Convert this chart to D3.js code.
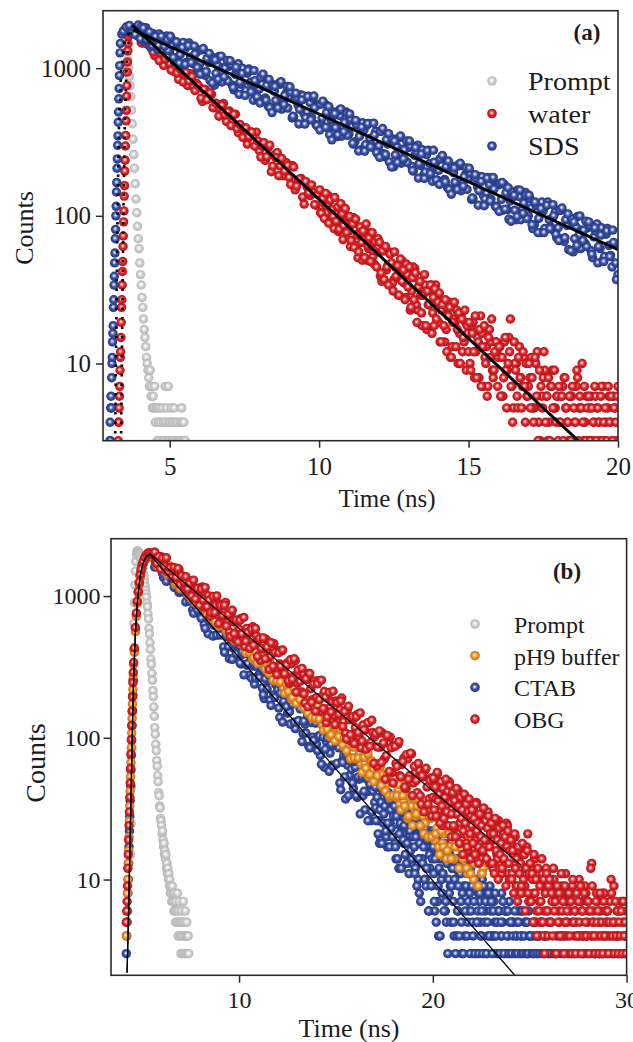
<!DOCTYPE html>
<html>
<head>
<meta charset="utf-8">
<script src="https://cdn.jsdelivr.net/npm/d3@7"></script>
<style>
  body { margin: 0; background: #fff; }
  svg { display: block; }
  text { font-family: 'Liberation Serif', 'Times New Roman', serif; fill: #1c1c1c; }
</style>
</head>
<body>
<div id="chart"></div>
<script>
// ---------- panel (a): water vs SDS ----------
// counts per channel. Decays are stored as interleaved
// channel sets (even / odd / extra); rise columns use a finer channel step
const riseStepA = 0.01
const decayStepA = 0.1
const extraStepA = 0.05
const promptStepA = 0.025

const promptAStart = 3.5
const promptA = [1800, 1650, 1500, 1300, 1150, 1000, 880, 760, 640, 520,
  420, 330, 260, 210, 165, 130, 105, 85, 70, 60,
  48, 40, 34, 28, 24, 20, 17, 15, 13, 11,
  10, 9, 8, 7, 9, 6, 7, 5, 6, 5,
  7, 4, 5, 3, 5, 4, 3, 5, 4, 2,
  3, 5, 4, 3, 7, 4, 5, 3, 7, 4,
  3, 4, 5, 3, 4, 3, 5, 4, 3, 2,
  4, 3, 2, 3, 4, 3, 5, 4, 3, 4, 2, 3]

const waterRiseStart = 3.28
const waterRise = [3, 4, 4, 5, 6, 7, 9, 11, 12, 15, 19, 24, 27, 34, 42, 49, 62, 73, 91, 108,
  136, 160, 201, 238, 297, 350, 440, 518, 645, 760, 940, 1100, 1310, 1470, 1640, 1730]
const waterStart = 3.7
const water = [1800, 1791, 1871,
  1815, 1479, 1586, 1697, 1355, 1215, 1413, 1265, 1043, 1194,
  1078, 1170, 938, 840, 971, 904, 763, 918, 747, 790,
  743, 595, 714, 621, 666, 541, 534, 564, 576, 435,
  513, 430, 488, 365, 389, 394, 306, 372, 314, 369,
  276, 298, 237, 289, 199, 257, 268, 217, 187, 229,
  182, 219, 150, 173, 179, 120, 157, 137, 144, 118,
  141, 103, 119, 137, 97, 82, 111, 94, 69, 91,
  79, 96, 63, 52, 77, 69, 50, 77, 53, 63,
  57, 36, 58, 46, 56, 37, 38, 45, 49, 28,
  44, 31, 44, 23, 29, 32, 17, 31, 22, 34,
  19, 23, 14, 24, 11, 20, 23, 16, 12, 19,
  12, 18, 8, 15, 21, 7, 13, 17, 9, 14,
  11, 6, 14, 9, 20, 5, 10, 13, 7, 4,
  7, 11, 5, 12, 3, 8, 6, 4, 9, 5,
  3, 6, 8, 4, 6, 3, 7, 5, 10, 4,
  3, 6, 4, 5, 3, 7, 4, 6, 3, 5,
  7]
const waterOddStart = 3.75
const waterOdd = [1870, 1810, 1700,
  1486, 1709, 1454, 1618, 1284, 1376, 1126, 1335, 1150, 1203,
  969, 1156, 929, 989, 806, 936, 818, 878, 704, 765,
  625, 719, 611, 680, 540, 579, 473, 561, 483, 506,
  408, 486, 390, 416, 339, 394, 344, 369, 296, 322,
  250, 313, 251, 301, 217, 248, 187, 245, 201, 219,
  163, 214, 159, 178, 134, 171, 143, 162, 119, 139,
  105, 131, 105, 126, 92, 104, 78, 103, 84, 92,
  62, 97, 63, 77, 50, 77, 60, 73, 47, 61,
  39, 58, 43, 57, 35, 45, 29, 46, 35, 40,
  23, 45, 25, 34, 18, 34, 25, 34, 18, 27,
  14, 26, 17, 26, 13, 19, 10, 21, 14, 18,
  10, 19, 12, 8, 16, 11, 7, 14, 9, 12,
  13, 6, 9, 15, 7, 10, 5, 8, 11, 6,
  8, 5, 10, 4, 6, 9, 3, 7, 5, 6,
  4, 7, 5, 3, 6, 4, 8, 5, 3, 6,
  5, 3, 6, 4, 7, 3, 5, 4, 6, 3]
const waterExtraStart = 10.025
const waterExtra = [150, 104, 131, 96, 142, 117, 89, 128, 110, 99, 133, 92, 115, 81, 121, 103, 86, 112, 77, 97,
  99, 68, 88, 61, 95, 74, 57, 84, 66, 79, 52, 88, 63, 71, 49, 77, 58, 67, 45, 70,
  66, 41, 58, 37, 62, 45, 34, 55, 48, 31, 57, 39, 46, 29, 51, 36, 43, 27, 47, 33,
  45, 24, 38, 27, 41, 19, 33, 36, 22, 29, 40, 18, 31, 25, 34, 16, 28, 32, 20, 26,
  30, 14, 25, 18, 27, 12, 21, 24, 11, 19, 26, 13, 17, 22, 10, 20, 15, 23, 9, 16,
  19, 9, 16, 12, 21, 8, 14, 17, 7, 13, 18, 10, 6, 15, 11, 20, 8, 12, 14, 7,
  13, 6, 11, 8, 15, 5, 10, 12, 7, 4, 14, 9, 6, 11, 8, 5, 12, 7, 10, 6,
  10, 5, 8, 4, 11, 6, 3, 9, 7, 5, 12, 4, 6, 8, 3, 7, 5, 9, 4, 6,
  7, 4, 6, 3, 8, 5, 4, 6, 3, 7, 5, 4, 9, 3, 6, 5, 4, 7, 3, 5,
  6, 3, 5, 4, 7, 3, 5, 4, 6, 3, 4, 5, 3, 7, 4, 6, 3, 5, 4, 6]

const sdsRiseStart = 3.0
const sdsRise = [3, 4, 3, 5, 6, 5, 8, 10, 11, 14, 16, 18, 24, 27, 34, 39, 48, 56, 70, 81,
  100, 116, 145, 168, 210, 243, 300, 348, 430, 505, 620, 728, 890, 1040, 1270, 1470]
const sdsStart = 3.4
const sds = [1700, 1830, 1880, 1800, 1864, 1666,
  1909, 1665, 1880, 1499, 1594, 1640, 1345, 1617, 1422, 1650,
  1306, 1415, 1171, 1437, 1058, 1340, 1410, 1188, 1067, 1289,
  1057, 1336, 894, 1089, 1160, 767, 1052, 942, 1009, 837,
  1030, 766, 908, 1071, 777, 671, 924, 802, 606, 814,
  723, 860, 628, 553, 747, 698, 551, 778, 592, 678,
  639, 460, 665, 560, 659, 489, 504, 583, 627, 414,
  566, 459, 571, 394, 448, 479, 344, 476, 391, 505,
  359, 402, 318, 412, 280, 381, 411, 334, 291, 373,
  297, 374, 251, 306, 325, 215, 295, 264, 283, 235,
  290, 216, 256, 301, 219, 189, 260, 226, 171, 229,
  203, 242, 176, 155, 209, 196, 155, 218, 166, 190,
  179, 129, 186, 157, 184, 137, 142, 163, 176, 116,
  162, 129, 163, 110, 126, 135, 94, 135, 110, 144,
  100, 113, 87, 117, 77, 108, 117, 94, 81, 106,
  83, 109, 67, 86, 93, 57, 84, 74, 80, 65,
  83, 58, 72, 88, 60, 50, 75, 63, 45, 65,
  40]
const sdsOddStart = 3.45
const sdsOdd = [1780, 1900, 1950, 1720, 1690, 1960,
  1902, 1530, 1725, 1399, 1711, 1462, 1704, 1331, 1495, 1318,
  1590, 1116, 1465, 1235, 1495, 1093, 1479, 1092, 1249, 964,
  1328, 936, 1165, 824, 1179, 922, 1199, 806, 999, 818,
  1056, 713, 969, 804, 995, 704, 986, 707, 823, 617,
  870, 614, 764, 540, 772, 603, 785, 528, 654, 536,
  691, 467, 635, 526, 652, 461, 646, 463, 539, 404,
  570, 402, 500, 354, 506, 396, 515, 346, 428, 351,
  454, 306, 416, 345, 427, 303, 423, 303, 353, 265,
  373, 263, 327, 232, 331, 258, 336, 227, 280, 230,
  297, 201, 272, 226, 280, 198, 278, 199, 231, 174,
  244, 172, 215, 151, 217, 169, 221, 148, 184, 151,
  195, 131, 179, 148, 184, 130, 182, 130, 152, 114,
  166, 109, 143, 95, 146, 109, 150, 94, 122, 96,
  131, 82, 119, 96, 124, 82, 124, 84, 100, 71,
  109, 70, 94, 59, 96, 70, 99, 60, 80, 62,
  86, 52, 79, 62, 83, 53, 82, 54, 66, 37]
const sdsExtraStart = 4.025
const sdsExtra = [1579, 1869, 1564, 1759, 1419, 1640, 1422, 1647, 1407, 1564,
  1643, 1182, 1508, 1081, 1380, 1062, 1423, 1091, 1411, 1010,
  910, 1358, 948, 1260, 794, 1136, 842, 1207, 875, 1128,
  1122, 739, 1014, 665, 921, 654, 965, 691, 963, 639,
  581, 911, 607, 840, 500, 752, 538, 810, 567, 752,
  748, 472, 676, 419, 609, 418, 643, 447, 648, 409,
  381, 598, 398, 550, 327, 492, 353, 530, 371, 493,
  490, 310, 443, 275, 399, 274, 421, 293, 424, 268,
  249, 390, 260, 360, 214, 321, 230, 347, 243, 322,
  321, 203, 290, 180, 262, 179, 276, 193, 278, 175,
  163, 256, 170, 235, 140, 211, 151, 227, 159, 211,
  210, 132, 190, 118, 171, 117, 180, 126, 182, 115,
  107, 168, 111, 155, 92, 138, 99, 149, 104, 138,
  138, 87, 124, 77, 112, 77, 118, 82, 119, 75,
  68, 113, 71, 103, 58, 91, 63, 100, 68, 92,
  91, 55, 83, 48, 74, 49, 79, 53, 80, 48]

// fitted curves: rise part (dotted) and single-exponential decay part
const sdsFitRiseT = [3.17, 3.21, 3.25, 3.30, 3.38, 3.50, 3.62, 3.78]
const sdsFitRiseC = [2.5, 14, 80, 380, 1000, 1500, 1720, 1815]
const sdsFitT = [3.78, 20]
const sdsFitC = [1815, 59]
const waterFitRiseT = [3.37, 3.41, 3.45, 3.50, 3.56, 3.64, 3.75]
const waterFitRiseC = [2.5, 16, 95, 420, 1050, 1600, 1950]
const waterFitT = [3.75, 18.75]
const waterFitC = [1950, 2.9]

// ---------- panel (b): pH9 buffer, CTAB, OBG ----------
const riseStepB = 0.02
const decayStepB = 0.1
const extraStepB = 0.05
const promptStepB = 0.025

const promptBStart = 4.4
const promptB = [15, 25, 45, 85, 150, 260, 420, 640,
  900, 1200, 1500, 1750, 1950, 2050, 2080, 2070,
  2050, 2020, 1980, 1930, 1880, 1820, 1760, 1690,
  1620, 1550, 1470, 1400, 1320, 1240, 1170, 1100,
  1040, 980, 890, 840, 750, 690, 590, 540,
  470, 420, 360, 330, 285, 255, 215, 195,
  165, 142, 118, 106, 90, 81, 69, 63,
  54, 49, 41, 39, 33, 32, 27, 26,
  24, 21, 22, 19, 17, 18, 15, 16,
  14, 15, 12, 13, 11, 12, 10, 11,
  9, 10, 8, 9, 8, 7, 9, 7,
  8, 6, 7, 8, 6, 5, 7, 6,
  5, 8, 4, 6, 5, 7, 4, 5,
  3, 6, 4, 5, 3, 7, 4, 5,
  3, 6, 4, 3, 5, 4, 3, 4,
  3]

const bufferRiseStart = 4.18
const bufferRise = [4, 5, 6, 8, 10, 13, 16, 20, 26, 33, 42, 53, 67, 85, 108, 137, 173, 219, 277, 330]
const ctabRiseStart = 4.16
const ctabRise = [2, 3, 4, 5, 6, 8, 10, 13, 17, 22, 28, 36, 46, 59, 75, 96, 122, 156, 199, 254]
const obgRiseStart = 4.18
const obgRise = [5, 6, 7, 9, 12, 15, 19, 24, 30, 38, 48, 61, 77, 97, 122, 154, 194, 245, 290, 340]

const mainStartB = 4.6
const oddStartB = 4.65
// the pH9 buffer trace stops at about 22.6 ns
const buffer = [400, 720, 1050, 1380,
  1620, 1780, 1890, 1950, 1940, 1920, 1843, 1900, 1627, 1770,
  1817, 1550, 1599, 1428, 1639, 1415, 1459, 1211, 1386, 1268,
  1329, 1133, 1204, 1236, 1012, 1066, 1004, 1064, 886, 964,
  989, 845, 871, 777, 892, 771, 795, 659, 755, 690,
  723, 617, 655, 673, 551, 581, 547, 580, 482, 525,
  539, 460, 475, 424, 486, 420, 433, 360, 411, 376,
  394, 336, 357, 366, 300, 317, 295, 322, 254, 288,
  302, 246, 259, 223, 275, 227, 241, 187, 228, 205,
  221, 179, 197, 207, 158, 172, 160, 175, 137, 158,
  164, 134, 140, 122, 149, 123, 131, 102, 124, 112,
  121, 98, 107, 113, 86, 94, 86, 98, 72, 86,
  92, 71, 77, 65, 84, 66, 72, 53, 69, 60,
  66, 52, 59, 63, 45, 51, 47, 55, 38, 48,
  52, 38, 43, 34, 48, 36, 40, 27, 39, 33,
  38, 28, 33, 36, 24, 28, 25, 31, 20, 27,
  29, 19, 23, 17, 26, 18, 21, 14, 22, 17,
  21, 14, 18, 20, 12, 16, 15, 18, 11, 15,
  17, 10, 14, 9, 15, 11, 12]
const bufferOdd = [560, 890, 1210, 1500, 1700, 1840, 1920, 1950, 1930, 1900,
  1930, 1706, 1805, 1640, 1764, 1575, 1637, 1406, 1482, 1372,
  1503, 1233, 1362, 1130, 1300, 1158, 1260, 1036, 1118, 958,
  1092, 893, 997, 870, 996, 847, 917, 731, 812, 731,
  818, 671, 742, 615, 709, 631, 686, 564, 609, 522,
  595, 487, 543, 475, 542, 461, 499, 398, 442, 398,
  446, 366, 405, 335, 386, 344, 374, 307, 331, 285,
  332, 255, 300, 252, 305, 248, 280, 206, 242, 212,
  250, 192, 224, 175, 214, 186, 211, 162, 183, 149,
  182, 139, 164, 138, 167, 136, 152, 113, 132, 115,
  137, 105, 123, 95, 118, 102, 115, 89, 100, 81,
  102, 71, 91, 72, 95, 72, 86, 57, 73, 61,
  77, 55, 68, 49, 66, 54, 65, 46, 55, 42,
  55, 39, 49, 39, 52, 39, 47, 31, 39, 33,
  44, 28, 38, 24, 37, 29, 37, 24, 31, 21,
  31, 20, 28, 20, 30, 21, 27, 15, 22, 17,
  24, 16, 21, 14, 22, 17, 20, 12, 18, 14,
  19, 12, 17, 11, 18, 13, 15, 9, 14, 11]
const ctab = [420, 740, 1060, 1380,
  1600, 1760, 1870, 1920, 1910, 1880, 1924, 1626, 1850, 1617,
  1675, 1354, 1638, 1437, 1557, 1274, 1269, 1353, 1392, 1061,
  1267, 1069, 1225, 925, 994, 1018, 796, 977, 830, 985,
  735, 812, 633, 808, 542, 728, 774, 621, 532, 674,
  532, 664, 438, 525, 553, 361, 487, 431, 456, 373,
  454, 332, 389, 453, 325, 276, 375, 321, 239, 317,
  276, 341, 225, 189, 280, 253, 184, 286, 201, 237,
  219, 139, 227, 181, 221, 149, 153, 184, 200, 116,
  174, 132, 173, 107, 125, 136, 87, 132, 101, 140,
  90, 103, 75, 105, 62, 94, 102, 78, 64, 88,
  65, 93, 48, 68, 75, 37, 64, 54, 60, 44,
  62, 38, 51, 65, 39, 31, 51, 42, 26, 42,
  35, 49, 26, 19, 38, 34, 20, 41, 25, 33,
  30, 14, 32, 24, 32, 18, 19, 26, 29, 13,
  23, 12, 25, 8, 19, 21, 10, 17, 6, 20,
  16, 6, 18, 4, 14, 11, 17, 5, 13, 9,
  12, 4, 14, 6, 11, 3, 9, 13, 5, 8,
  9, 3, 10, 5, 7, 4, 8, 6, 3, 7,
  8, 4, 5, 3, 6, 4, 5, 3, 6, 4,
  2, 5, 3, 4, 6, 3, 4, 2, 5, 3,
  4, 2, 3, 5, 3, 4, 2, 3, 4, 1,
  3, 5, 2, 3, 4, 2, 3, 1, 4, 2,
  3, 2, 5, 3, 1, 3, 2, 4, 3, 2,
  3, 1, 4, 2, 3, 2, 3, 1, 4, 2,
  3, 2, 1, 3, 2, 4, 3, 1, 2, 3,
  2]
const ctabOdd = [590, 900, 1220, 1500, 1690, 1820, 1900, 1930, 1890, 1860,
  1600, 1879, 1620, 1802, 1448, 1575, 1269, 1505, 1350, 1444,
  1152, 1299, 1123, 1299, 1087, 1169, 909, 1025, 922, 1031,
  756, 968, 799, 936, 698, 797, 592, 772, 670, 747,
  522, 673, 530, 707, 532, 620, 401, 520, 440, 552,
  358, 497, 392, 486, 337, 405, 278, 395, 334, 386,
  262, 337, 265, 354, 266, 311, 201, 261, 221, 276,
  169, 255, 193, 251, 162, 206, 129, 202, 166, 199,
  125, 172, 129, 185, 132, 160, 94, 131, 108, 144,
  85, 128, 96, 127, 81, 103, 65, 101, 83, 100,
  58, 90, 63, 99, 66, 85, 43, 67, 53, 76,
  39, 68, 48, 68, 39, 53, 29, 53, 42, 53,
  26, 47, 30, 54, 32, 45, 18, 35, 25, 41,
  17, 36, 23, 37, 18, 28, 12, 28, 21, 29,
  13, 27, 16, 30, 17, 24, 10, 21, 14, 25,
  9, 20, 12, 22, 11, 17, 7, 15, 10, 18,
  6, 15, 8, 17, 7, 12, 4, 11, 7, 13,
  4, 11, 6, 12, 5, 9, 3, 8, 5, 10,
  3, 8, 4, 9, 4, 7, 2, 6, 3, 8,
  2, 6, 3, 7, 3, 5, 1, 5, 2, 6,
  2, 5, 3, 6, 2, 4, 1, 4, 2, 5,
  1, 4, 2, 5, 2, 3, 1, 3, 2, 4,
  1, 3, 2, 4, 1, 3, 0, 3, 1, 4,
  1, 3, 2, 4, 1, 2, 0, 3, 1, 3,
  1, 3, 1, 3, 2, 2, 0, 3, 1, 2,
  2, 3, 1, 4]
const ctabExtraStart = 17.025
const ctabExtra = [45, 26, 38, 21, 49, 31, 35, 18, 42, 29, 33, 22, 40, 25, 36, 17, 31, 38, 20, 28,
  33, 17, 28, 14, 36, 21, 25, 12, 30, 19, 24, 15, 31, 18, 26, 11, 22, 28, 14, 20,
  24, 11, 20, 9, 27, 14, 18, 7, 22, 13, 17, 10, 23, 12, 19, 6, 15, 21, 9, 14,
  17, 7, 14, 5, 19, 9, 12, 4, 16, 8, 11, 6, 18, 7, 13, 3, 10, 15, 5, 9,
  12, 5, 10, 3, 14, 6, 9, 4, 11, 5, 8, 3, 13, 6, 9, 4, 7, 11, 3, 6,
  9, 4, 7, 3, 10, 5, 6, 3, 8, 4, 6, 3, 9, 5, 7, 3, 5, 8, 4, 6,
  7, 3, 6, 4, 8, 4, 5, 3, 6, 3, 5, 4, 7, 3, 6, 2, 4, 6, 3, 5,
  5, 3, 4, 2, 6, 3, 4, 3, 5, 2, 4, 3, 6, 3, 4, 2, 3, 5, 3, 4,
  4, 2, 3, 5, 3, 2, 4, 3, 2, 4, 3, 2, 5, 3, 2, 3, 4, 2, 3, 3]
const obg = [430, 760, 1080, 1420,
  1660, 1810, 1930, 2010, 1990, 1960, 2030, 1738, 1877, 1900,
  1885, 1666, 1836, 1499, 1569, 1590, 1339, 1537, 1384, 1540,
  1271, 1329, 1141, 1323, 1035, 1219, 1267, 1101, 996, 1138,
  965, 1160, 838, 968, 1006, 720, 911, 827, 864, 736,
  881, 652, 768, 901, 651, 558, 765, 661, 497, 663,
  586, 694, 504, 441, 592, 550, 433, 607, 460, 524,
  491, 352, 505, 424, 495, 365, 375, 431, 461, 303,
  412, 332, 411, 282, 319, 339, 242, 333, 273, 350,
  243, 279, 210, 285, 176, 258, 284, 222, 186, 252,
  192, 253, 154, 197, 212, 128, 189, 165, 179, 144,
  182, 128, 158, 191, 130, 108, 159, 134, 95, 136,
  118, 146, 101, 85, 123, 113, 85, 128, 93, 109,
  102, 63, 108, 86, 108, 71, 75, 92, 101, 57,
  88, 66, 90, 54, 65, 72, 44, 71, 54, 77,
  48, 57, 41, 59, 34, 53, 59, 45, 37, 52,
  38, 53, 30, 41, 44, 24, 39, 33, 37, 29,
  40, 23, 33, 43, 25, 19, 35, 28, 16, 29,
  24, 32, 19, 14, 26, 24, 15, 29, 18, 23,
  21, 12, 24, 15, 26, 13, 17, 22, 25, 11,
  18, 11, 20, 9, 14, 16, 8, 17, 12, 21,
  7, 12, 8, 5, 11, 7, 9, 4, 8, 6,
  10, 5, 7, 3, 9, 6, 4, 8, 5, 7,
  3, 6, 9, 4, 5, 7, 3, 6, 4, 8,
  5, 3, 13, 6, 4, 7, 5, 3, 8, 4,
  6, 3, 10, 5, 4, 6, 3, 7, 5, 4,
  6]
const obgOdd = [600, 920, 1250, 1550, 1740, 1880, 1970, 2020, 1990, 1950,
  2040, 1696, 1897, 1547, 1850, 1618, 1862, 1479, 1580, 1357,
  1593, 1358, 1566, 1207, 1393, 1260, 1371, 1122, 1230, 1001,
  1295, 954, 1131, 858, 1118, 937, 1148, 842, 938, 763,
  994, 766, 1003, 638, 855, 730, 862, 615, 743, 518,
  794, 542, 678, 474, 675, 543, 706, 481, 555, 428,
  584, 450, 590, 375, 503, 429, 507, 361, 437, 304,
  468, 319, 400, 279, 398, 320, 416, 283, 327, 252,
  355, 259, 361, 210, 301, 250, 309, 204, 261, 166,
  284, 178, 239, 154, 240, 186, 255, 161, 193, 140,
  209, 152, 213, 124, 177, 147, 182, 120, 153, 98,
  167, 105, 141, 91, 141, 109, 150, 95, 114, 83,
  128, 87, 133, 66, 107, 86, 112, 67, 92, 51,
  104, 58, 85, 48, 87, 63, 94, 53, 68, 45,
  76, 51, 78, 39, 63, 50, 66, 39, 54, 30,
  61, 34, 50, 28, 51, 37, 56, 31, 40, 27,
  47, 29, 49, 20, 39, 29, 41, 21, 33, 15,
  38, 18, 30, 14, 31, 21, 35, 17, 24, 14,
  27, 17, 30, 13, 24, 19, 26, 14, 21, 11,
  21, 13, 24, 10, 18, 15, 20, 9, 16, 8,
  15, 9, 17, 7, 12, 10, 14, 6, 11, 5,
  11, 6, 12, 4, 9, 7, 10, 3, 8, 5,
  9, 4, 11, 5, 7, 3, 8, 6, 4, 10,
  7, 3, 9, 4, 6, 12, 5, 3, 8, 4,
  6, 3, 8, 5, 4, 7, 3, 9, 5, 4,
  6, 3, 7, 4]
const obgExtraStart = 20.025
const obgExtra = [52, 31, 45, 28, 57, 36, 40, 25, 49, 33, 44, 27, 38, 51, 30, 42, 24, 46, 35, 29,
  41, 24, 36, 20, 44, 29, 33, 18, 38, 27, 31, 22, 40, 25, 34, 17, 30, 37, 21, 28,
  31, 18, 27, 15, 34, 22, 25, 13, 29, 20, 24, 16, 32, 19, 26, 14, 23, 28, 17, 21,
  25, 13, 21, 11, 27, 16, 19, 10, 23, 15, 18, 12, 24, 14, 20, 9, 17, 22, 13, 16,
  19, 10, 16, 8, 21, 12, 14, 7, 17, 11, 13, 9, 18, 10, 15, 6, 12, 16, 8, 11,
  13, 7, 11, 5, 15, 8, 10, 4, 12, 6, 9, 7, 14, 5, 10, 3, 8, 11, 6, 9,
  10, 5, 8, 4, 12, 6, 7, 3, 9, 5, 8, 4, 11, 6, 7, 3, 9, 5, 6, 8,
  8, 4, 7, 3, 10, 5, 6, 3, 8, 4, 7, 5, 9, 3, 6, 4, 8, 5, 4, 7,
  7, 3, 6, 4, 9, 5, 4, 3, 7, 5, 6, 3, 8, 4, 5, 3, 7, 4, 6, 5,
  6, 3, 5, 4, 8, 4, 5, 3, 7, 4, 6, 3, 5, 4, 6, 3, 7, 4, 5, 3]

const obgFitT = [4.22, 4.30, 4.38, 4.46, 4.54, 4.64, 4.76, 4.90, 5.05, 5.20, 5.40, 24.54]
const obgFitC = [2.2, 6, 20, 70, 220, 520, 950, 1400, 1720, 1900, 1990, 12.7]
const ctabFitT = [4.22, 4.30, 4.38, 4.46, 4.54, 4.64, 4.76, 4.90, 5.05, 5.20, 5.40, 24.45]
const ctabFitC = [2.2, 6, 20, 70, 220, 520, 950, 1400, 1720, 1890, 1960, 1.95]

const legendA = ['Prompt', 'water', 'SDS']
const legendB = ['Prompt', 'pH9 buffer', 'CTAB', 'OBG']
const yTicks = [10, 100, 1000]
const xTicksA = [5, 10, 15, 20]
const xTicksB = [10, 20, 30]

function toPoints (start, step, counts) {
  return counts.map(function (c, i) {
    return { t: start + i * step, c: c }
  })
}

function pairs (ts, cs) {
  return ts.map(function (t, i) {
    return { t: t, c: cs[i] }
  })
}

let svg = d3.select('#chart').append('svg')
  .attr('width', 633)
  .attr('height', 1042)

let defs = svg.append('defs')

// shaded "ball" markers
const ballColors = {
  gray: ['#ffffff', '#f4f4f4', '#d3d3d3', '#b3b3b3'],
  red: ['#ffffff', '#f6b0b0', '#e8272c', '#ad1318'],
  blue: ['#ffffff', '#b5bfe6', '#3d55aa', '#24357c'],
  orange: ['#ffffff', '#fbd5a2', '#f29a2c', '#c26a12']
}
const ballStops = [0, 0.2, 0.5, 1]
Object.keys(ballColors).forEach(function (k) {
  let grad = defs.append('radialGradient')
    .attr('id', 'ball-' + k)
    .attr('cx', '50%').attr('cy', '50%').attr('r', '50%')
    .attr('fx', '45%').attr('fy', '42%')
  ballColors[k].forEach(function (col, i) {
    grad.append('stop').attr('offset', ballStops[i]).attr('stop-color', col)
  })
})

function drawPanel (p) {
  let x = d3.scaleLinear().domain(p.xDomain).range([p.left, p.right])
  let y = d3.scaleLog().domain(p.yDomain).range([p.bottom, p.top])
  let g = svg.append('g')

  defs.append('clipPath').attr('id', 'clip-' + p.id)
    .append('rect')
    .attr('x', p.left).attr('y', p.top)
    .attr('width', p.right - p.left).attr('height', p.bottom - p.top)

  let plot = g.append('g').attr('clip-path', 'url(#clip-' + p.id + ')')

  p.series.forEach(function (s) {
    plot.append('g').selectAll('circle')
      .data(s.points.filter(function (d) { return d.c > 2 }))
      .enter().append('circle')
      .attr('cx', function (d) { return x(d.t) })
      .attr('cy', function (d) { return y(d.c) })
      .attr('r', p.r)
      .attr('fill', 'url(#ball-' + s.color + ')')
  })

  let line = d3.line()
    .x(function (d) { return x(d.t) })
    .y(function (d) { return y(d.c) })
  p.fits.forEach(function (f) {
    plot.append('path').datum(f.points)
      .attr('d', line)
      .attr('fill', 'none')
      .attr('stroke', '#000')
      .attr('stroke-width', f.width)
      .attr('stroke-dasharray', f.dash || null)
  })

  g.append('rect')
    .attr('x', p.left).attr('y', p.top)
    .attr('width', p.right - p.left).attr('height', p.bottom - p.top)
    .attr('fill', 'none').attr('stroke', '#2a2a2a').attr('stroke-width', 1.6)

  let ay = g.append('g').attr('transform', 'translate(' + p.left + ',0)')
    .call(d3.axisLeft(y).tickValues(yTicks).tickFormat(d3.format('d'))
      .tickSize(p.tickLen).tickPadding(p.yPad))
  let ax = g.append('g').attr('transform', 'translate(0,' + p.bottom + ')')
    .call(d3.axisBottom(x).tickValues(p.xTicks).tickFormat(d3.format('d'))
      .tickSize(p.tickLen).tickPadding(p.xPad))
  ;[ax, ay].forEach(function (a) {
    a.select('.domain').remove()
    a.selectAll('line').attr('stroke', '#2a2a2a').attr('stroke-width', 1.5)
    a.selectAll('text').style('font-size', p.tickFont + 'px')
  })

  g.append('text')
    .attr('transform', 'translate(' + p.yTitle[0] + ',' + p.yTitle[1] + ') rotate(-90)')
    .attr('text-anchor', 'middle')
    .style('font-size', p.yTitleFont + 'px')
    .text('Counts')
  g.append('text')
    .attr('x', p.xTitle[0]).attr('y', p.xTitle[1])
    .attr('text-anchor', 'middle')
    .style('font-size', p.xTitleFont + 'px')
    .text('Time (ns)')
  g.append('text')
    .attr('x', p.tag[0]).attr('y', p.tag[1])
    .attr('text-anchor', 'middle')
    .style('font-size', '23px').style('font-weight', 'bold')
    .text(p.tagText)

  let lg = p.legend
  let rows = g.append('g').selectAll('g')
    .data(lg.names)
    .enter().append('g')
  rows.append('circle')
    .attr('cx', lg.markerX)
    .attr('cy', function (d, i) { return lg.y0 + i * lg.dy })
    .attr('r', 4.8)
    .attr('fill', function (d, i) { return 'url(#ball-' + lg.colors[i] + ')' })
  rows.append('text')
    .attr('transform', function (d, i) {
      return 'translate(' + lg.textX + ',' + (lg.y0 + i * lg.dy + lg.baseline) + ') scale(' + lg.stretch + ',1)'
    })
    .style('font-size', lg.font + 'px')
    .text(function (d) { return d })
}

drawPanel({
  id: 'a',
  left: 103, right: 618, top: 10.7, bottom: 440.7,
  xDomain: [2.77, 20], yDomain: [3.0, 2450],
  xTicks: xTicksA, tickLen: 7, yPad: 5, xPad: 10, tickFont: 25, r: 4.7,
  series: [
    { color: 'gray', points: toPoints(promptAStart, promptStepA, promptA) },
    { color: 'red',
      points: toPoints(waterRiseStart, riseStepA, waterRise)
        .concat(toPoints(waterStart, decayStepA, water),
          toPoints(waterOddStart, decayStepA, waterOdd),
          toPoints(waterExtraStart, extraStepA, waterExtra)) },
    { color: 'blue',
      points: toPoints(sdsRiseStart, riseStepA, sdsRise)
        .concat(toPoints(sdsStart, decayStepA, sds),
          toPoints(sdsOddStart, decayStepA, sdsOdd),
          toPoints(sdsExtraStart, decayStepA, sdsExtra)) }
  ],
  fits: [
    { points: pairs(sdsFitRiseT, sdsFitRiseC), width: 2.6, dash: '2.5,7' },
    { points: pairs(waterFitRiseT, waterFitRiseC), width: 2.6, dash: '2.5,7' },
    { points: pairs(sdsFitT, sdsFitC), width: 3 },
    { points: pairs(waterFitT, waterFitC), width: 3 }
  ],
  yTitle: [33, 228], yTitleFont: 26,
  xTitle: [387, 507], xTitleFont: 25,
  tag: [587, 40], tagText: '(a)',
  legend: { names: legendA, colors: ['gray', 'red', 'blue'], markerX: 492, textX: 528, y0: 81, dy: 32.5, baseline: 9, font: 26, stretch: 1.08 }
})

drawPanel({
  id: 'b',
  left: 111, right: 626.6, top: 538.7, bottom: 975.3,
  xDomain: [3.39, 30], yDomain: [2.11, 2540],
  xTicks: xTicksB, tickLen: 7.5, yPad: 3, xPad: 8, tickFont: 24, r: 4.7,
  // draw order: prompt, CTAB, pH9 buffer (strip on top of CTAB), OBG on top
  series: [
    { color: 'gray', points: toPoints(promptBStart, promptStepB, promptB) },
    { color: 'blue',
      points: toPoints(ctabRiseStart, riseStepB, ctabRise)
        .concat(toPoints(mainStartB, decayStepB, ctab),
          toPoints(oddStartB, decayStepB, ctabOdd),
          toPoints(ctabExtraStart, extraStepB, ctabExtra)) },
    { color: 'orange',
      points: toPoints(bufferRiseStart, riseStepB, bufferRise)
        .concat(toPoints(mainStartB, decayStepB, buffer), toPoints(oddStartB, decayStepB, bufferOdd)) },
    { color: 'red',
      points: toPoints(obgRiseStart, riseStepB, obgRise)
        .concat(toPoints(mainStartB, decayStepB, obg),
          toPoints(oddStartB, decayStepB, obgOdd),
          toPoints(obgExtraStart, extraStepB, obgExtra)) }
  ],
  fits: [
    { points: pairs(ctabFitT, ctabFitC), width: 1.3 },
    { points: pairs(obgFitT, obgFitC), width: 1.3 }
  ],
  yTitle: [45, 763], yTitleFont: 28,
  xTitle: [349, 1037], xTitleFont: 26,
  tag: [567, 579], tagText: '(b)',
  legend: { names: legendB, colors: ['gray', 'orange', 'blue', 'red'], markerX: 475, textX: 514, y0: 624, dy: 31.7, baseline: 9, font: 24, stretch: 1 }
})
</script>
</body>
</html>
